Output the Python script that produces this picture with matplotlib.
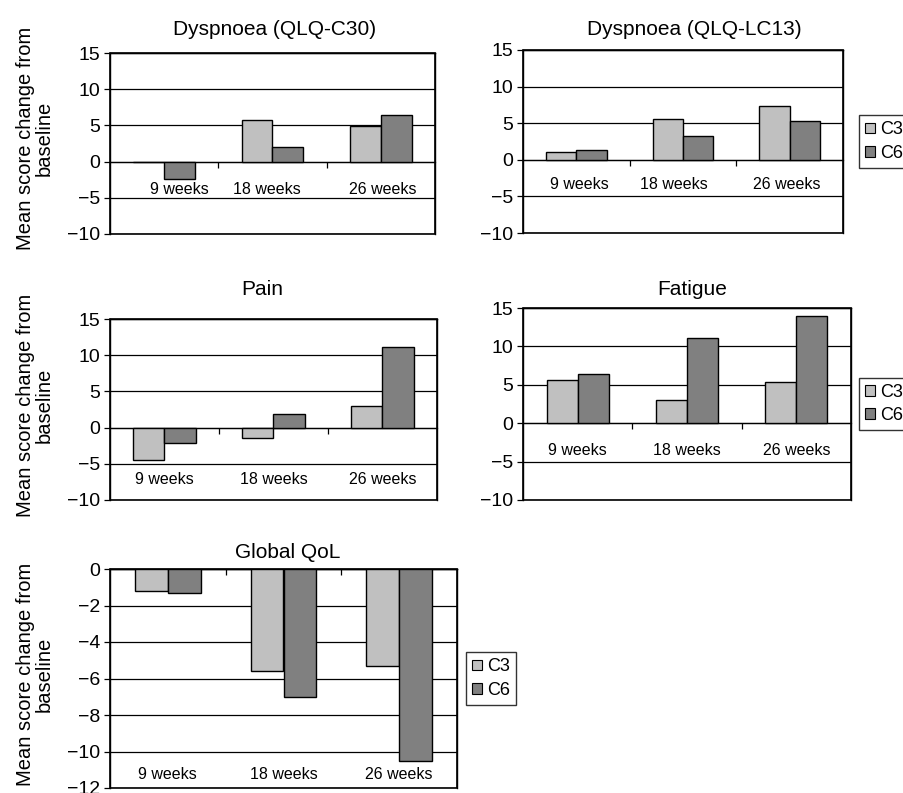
import matplotlib
matplotlib.use('Agg')
import matplotlib.pyplot as plt
from matplotlib.patches import Rectangle, Patch
import numpy as np

plt.rcParams['font.family'] = ['Liberation Sans', 'DejaVu Sans']

weeks = ['9 weeks', '18 weeks', '26 weeks']
groups = ['C3', 'C6']

dysp_c30_c3 = [0.0, 5.8, 4.9]
dysp_c30_c6 = [-2.4, 2.0, 6.4]
dysp_lc13_c3 = [1.0, 5.6, 7.3]
dysp_lc13_c6 = [1.3, 3.2, 5.3]
pain_c3 = [-4.5, -1.4, 3.0]
pain_c6 = [-2.1, 1.9, 11.2]
fatigue_c3 = [5.6, 3.0, 5.4]
fatigue_c6 = [6.4, 11.1, 14.0]
qol_c3 = [-1.2, -5.6, -5.3]
qol_c6 = [-1.3, -7.0, -10.5]

c3_color = '#c0c0c0'
c6_color = '#808080'

fig = plt.figure(figsize=(9.04, 7.93), dpi=100)
W, H = 904, 793


def px_axes(left, top, right, bottom):
    ax = fig.add_axes([left / W, 1 - bottom / H, (right - left) / W, (bottom - top) / H])
    ax._px = (left, top, right, bottom)
    return ax


def panel(ax, title, c3, c6, ylim, yticks, label_y, title_x=0.5, title_pad=6,
          label_dx=(0, 0, 0), ylabel_y=None, legend_gap=None):
    left, top, right, bottom = ax._px
    x = np.arange(len(weeks))
    w = 0.285
    ax.bar(x - w / 2, c3, w, color=c3_color, edgecolor='black', linewidth=1.0, zorder=3)
    ax.bar(x + w / 2, c6, w, color=c6_color, edgecolor='black', linewidth=1.0, zorder=3)
    ax.set_xlim(-0.5, len(weeks) - 0.5)
    ax.set_ylim(*ylim)
    ax.set_yticks(yticks)
    ax.set_yticklabels([f'{t:g}'.replace('-', '\u2212') for t in yticks], fontsize=14)
    ax.yaxis.grid(True, color='black', linewidth=0.9)
    ax.set_axisbelow(True)
    ax.tick_params(axis='y', direction='out', length=4, width=0.9, pad=3)

    # category axis sits on the zero line
    ax.spines['bottom'].set_position(('data', 0))
    ax.spines['bottom'].set_linewidth(0.9)
    ax.set_xticks([0.5, 1.5])
    ax.set_xticklabels([])
    ax.tick_params(axis='x', direction='out', length=4, width=0.9)
    for s in ['top', 'right', 'left']:
        ax.spines[s].set_linewidth(1.0)
    ax.add_patch(Rectangle((0, 0), 1, 1, transform=ax.transAxes, fill=False,
                           edgecolor='black', linewidth=1.2, zorder=5, clip_on=False))

    for i, lab in enumerate(weeks):
        ax.text(i + label_dx[i], label_y, lab, ha='center', va='center', fontsize=11.5)

    t = ax.set_title(title, fontsize=15, pad=title_pad)
    t.set_x(title_x)
    if ylabel_y is not None:
        ax.set_ylabel('Mean score change from\nbaseline', fontsize=14.5, linespacing=1.0)
        ax.yaxis.set_label_coords((54 - left) / (right - left), ylabel_y)
    if legend_gap is not None:
        handles = [Patch(facecolor=c3_color, edgecolor='black', linewidth=0.8),
                   Patch(facecolor=c6_color, edgecolor='black', linewidth=0.8)]
        lg = ax.legend(handles, groups, loc='center left',
                       bbox_to_anchor=(1 + legend_gap / (right - left), 0.5),
                       fontsize=13, frameon=True, fancybox=False, edgecolor='black',
                       handlelength=0.55, handleheight=0.55, handletextpad=0.25,
                       borderpad=0.35, labelspacing=0.35, borderaxespad=0)
        lg.get_frame().set_linewidth(1.0)


ax1 = px_axes(110, 53, 435, 234)
panel(ax1, 'Dyspnoea (QLQ-C30)', dysp_c30_c3, dysp_c30_c6, (-10, 15),
      [-10, -5, 0, 5, 10, 15], -3.9, title_x=0.505, title_pad=13,
      label_dx=(0.14, -0.05, 0.02), ylabel_y=0.53)

ax2 = px_axes(523, 50, 843, 233)
panel(ax2, 'Dyspnoea (QLQ-LC13)', dysp_lc13_c3, dysp_lc13_c6, (-10, 15),
      [-10, -5, 0, 5, 10, 15], -3.4, title_x=0.534, title_pad=10.5,
      label_dx=(0.03, -0.09, -0.03), legend_gap=16)

ax3 = px_axes(110, 319, 437, 500)
panel(ax3, 'Pain', pain_c3, pain_c6, (-10, 15),
      [-10, -5, 0, 5, 10, 15], -7.2, title_x=0.465, title_pad=17.5, ylabel_y=0.525)

ax4 = px_axes(523, 308, 851, 500)
panel(ax4, 'Fatigue', fatigue_c3, fatigue_c6, (-10, 15),
      [-10, -5, 0, 5, 10, 15], -3.5, title_x=0.517, title_pad=9.5, legend_gap=8)

ax5 = px_axes(110, 569, 457, 788)
panel(ax5, 'Global QoL', qol_c3, qol_c6, (-12, 0),
      [-12, -10, -8, -6, -4, -2, 0], -11.25, title_x=0.513, title_pad=8,
      ylabel_y=0.52, legend_gap=9)

fig.savefig('out.png', dpi=100)
